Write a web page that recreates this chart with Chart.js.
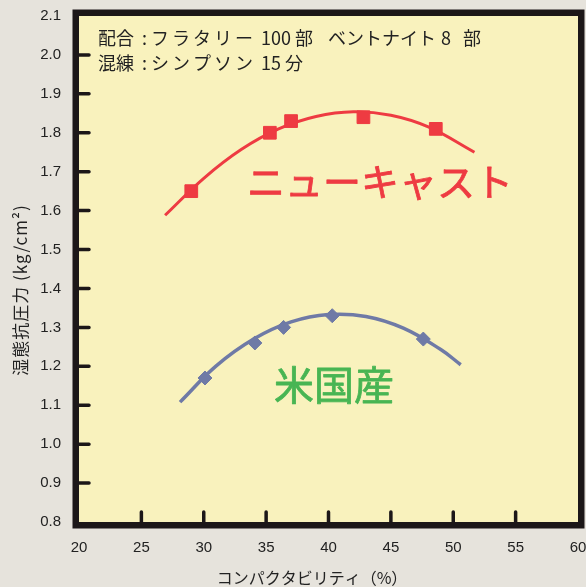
<!DOCTYPE html>
<html lang="ja">
<head>
  <meta charset="UTF-8" />
  <title>湿態抗圧力とコンパクタビリティ</title>
  <script src="https://cdn.jsdelivr.net/npm/chart.js"></script>
  <style>
    html, body { margin: 0; padding: 0; background: #e6e3dc; }
    #wrap { width: 586px; height: 587px; }
  </style>
</head>
<body>
  <div id="wrap"><canvas id="chart" width="586" height="587"></canvas></div>

  <script>
    // 値は図から読み取り
    const xTicks = [20, 25, 30, 35, 40, 45, 50, 55, 60];
    const yTicks = [0.8, 0.9, 1.0, 1.1, 1.2, 1.3, 1.4, 1.5, 1.6, 1.7, 1.8, 1.9, 2.0, 2.1];

    // ニューキャスト：測定点
    const ncX = [29.0, 35.3, 37.0, 42.8, 48.6];
    const ncY = [1.65, 1.80, 1.83, 1.84, 1.81];
    // ニューキャスト：近似曲線
    const ncCurveX = [26.9, 30, 33, 36, 39, 42, 45, 48, 51.7];
    const ncCurveY = [1.588, 1.683, 1.757, 1.810, 1.842, 1.854, 1.845, 1.815, 1.750];

    // 米国産：測定点
    const usX = [30.1, 34.1, 36.4, 40.3, 47.6];
    const usY = [1.17, 1.26, 1.30, 1.33, 1.27];
    // 米国産：近似曲線
    const usCurveX = [28.1, 31, 34, 37, 40, 43, 46, 49, 50.6];
    const usCurveY = [1.108, 1.201, 1.270, 1.314, 1.333, 1.328, 1.298, 1.243, 1.204];

    const RED = '#ee3b42';
    const BLUE = '#6f7aa6';
    const GREEN = '#48b553';
    const INK = '#222';
    const JP = '"Noto Sans CJK JP", sans-serif';
    const NUM = '"Liberation Sans Narrow", "Liberation Sans", sans-serif';

    const pts = (xs, ys) => xs.map((x, i) => ({ x: x, y: ys[i] }));

    // 注記（配合・混練）: [文字, x, 字間]
    const note1 = [['配合', 98, 0], [':', 142, 0], ['フラタリー', 151, 3], ['100', 261, 0], ['部', 295, 0],
                   ['ベントナイト', 328, 0], ['8', 441, 0], ['部', 463, 0]];
    const note2 = [['混練', 98, 0], [':', 142, 0], ['シンプソン', 151, 3], ['15', 261, 0], ['分', 285, 0]];

    // 背景・枠・内向きの目盛り・文字
    const framePlugin = {
      id: 'frame',
      beforeDraw(chart) {
        const { ctx, chartArea: a } = chart;
        ctx.save();
        ctx.fillStyle = '#e6e3dc';
        ctx.fillRect(0, 0, chart.width, chart.height);
        ctx.fillStyle = '#f9f2bd';
        ctx.fillRect(a.left, a.top, a.right - a.left, a.bottom - a.top);
        ctx.restore();
      },
      afterDraw(chart) {
        const { ctx, chartArea: a, scales } = chart;
        ctx.save();
        ctx.strokeStyle = '#1c1718';
        ctx.lineWidth = 3.5;
        ctx.lineCap = 'round';
        ctx.beginPath();
        yTicks.slice(1, -1).forEach(v => {
          const py = scales.y.getPixelForValue(v);
          ctx.moveTo(a.left, py);
          ctx.lineTo(a.left + 10, py);
        });
        xTicks.slice(1, -1).forEach(v => {
          const px = scales.x.getPixelForValue(v);
          ctx.moveTo(px, a.bottom);
          ctx.lineTo(px, a.bottom - 10);
        });
        ctx.stroke();

        ctx.lineWidth = 6.5;
        ctx.lineCap = 'butt';
        ctx.strokeRect(a.left - 3.25, a.top - 3.25, a.right - a.left + 6.5, a.bottom - a.top + 6.5);

        ctx.fillStyle = INK;
        ctx.textBaseline = 'middle';
        ctx.textAlign = 'left';
        ctx.font = '18px ' + JP;
        const drawNote = (segs, y) => segs.forEach(([t, x, sp]) => {
          ctx.letterSpacing = sp + 'px';
          ctx.fillText(t, x, y);
        });
        drawNote(note1, 38);
        drawNote(note2, 63);
        ctx.letterSpacing = '0px';

        // 軸タイトル
        ctx.font = '16px ' + JP;
        ctx.textAlign = 'center';
        ctx.fillText('コンパクタビリティ（%）', 312, 578);
        ctx.save();
        ctx.translate(21, 290);
        ctx.rotate(-Math.PI / 2);
        ctx.font = '17px ' + JP;
        ctx.letterSpacing = '1px';
        ctx.fillText('湿態抗圧力 (kg/cm²)', 0, 0);
        ctx.restore();

        // 系列名（やや太め）
        ctx.textAlign = 'left';
        ctx.lineJoin = 'round';
        ctx.lineWidth = 0.8;
        ctx.font = '38px ' + JP;
        ctx.fillStyle = RED;
        ctx.strokeStyle = RED;
        ctx.fillText('ニューキャスト', 247, 182);
        ctx.strokeText('ニューキャスト', 247, 182);
        ctx.font = '40px ' + JP;
        ctx.fillStyle = GREEN;
        ctx.strokeStyle = GREEN;
        ctx.fillText('米国産', 274, 385);
        ctx.strokeText('米国産', 274, 385);
        ctx.restore();
      }
    };

    new Chart(document.getElementById('chart'), {
      type: 'scatter',
      data: {
        datasets: [
          {
            label: 'ニューキャスト 曲線',
            data: pts(ncCurveX, ncCurveY),
            showLine: true,
            borderColor: RED,
            borderWidth: 3,
            pointRadius: 0,
            tension: 0.4,
            order: 2
          },
          {
            label: 'ニューキャスト',
            data: pts(ncX, ncY),
            backgroundColor: RED,
            borderColor: RED,
            pointStyle: 'rect',
            pointRadius: 9,
            order: 1
          },
          {
            label: '米国産 曲線',
            data: pts(usCurveX, usCurveY),
            showLine: true,
            borderColor: BLUE,
            borderWidth: 3.5,
            pointRadius: 0,
            tension: 0.4,
            order: 2
          },
          {
            label: '米国産',
            data: pts(usX, usY),
            backgroundColor: BLUE,
            borderColor: BLUE,
            pointStyle: 'rectRot',
            pointRadius: 7,
            order: 1
          }
        ]
      },
      options: {
        responsive: false,
        animation: false,
        layout: { autoPadding: false, padding: { top: 16, right: 8, left: 0, bottom: 0 } },
        plugins: {
          legend: { display: false },
          tooltip: { enabled: false }
        },
        scales: {
          x: {
            type: 'linear',
            min: 20,
            max: 60,
            afterFit: s => { s.height = 65; s.paddingLeft = 0; s.paddingRight = 0; },
            afterBuildTicks: s => { s.ticks = xTicks.map(v => ({ value: v })); },
            grid: { display: false, drawTicks: false },
            border: { display: false },
            ticks: {
              padding: 17,
              color: INK,
              font: { family: NUM, size: 15 },
              maxRotation: 0
            }
          },
          y: {
            min: 0.8,
            max: 2.1,
            afterFit: s => { s.width = 79; s.paddingTop = 0; s.paddingBottom = 0; },
            afterBuildTicks: s => { s.ticks = yTicks.map(v => ({ value: v })); },
            grid: { display: false, drawTicks: false },
            border: { display: false },
            ticks: {
              padding: 18,
              color: INK,
              font: { family: NUM, size: 15 },
              callback: v => v.toFixed(1)
            }
          }
        }
      },
      plugins: [framePlugin]
    });
  </script>
</body>
</html>
